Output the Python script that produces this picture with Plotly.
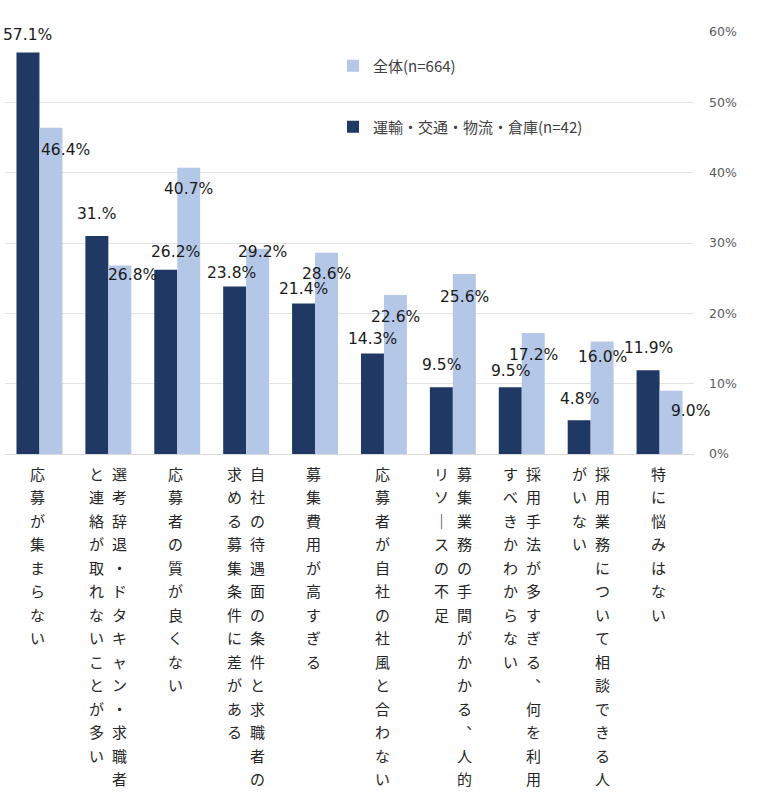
import plotly.graph_objects as go

# ---------------- data ----------------
label_columns = [
    ["応募が集まらない"],
    ["選考辞退・ドタキャン・求職者", "と連絡が取れないことが多い"],
    ["応募者の質が良くない"],
    ["自社の待遇面の条件と求職者の", "求める募集条件に差がある"],
    ["募集費用が高すぎる"],
    ["応募者が自社の社風と合わない"],
    ["募集業務の手間がかかる︑人的", "リソ｜スの不足"],
    ["採用手法が多すぎる︑何を利用", "すべきかわからない"],
    ["採用業務について相談できる人", "がいない"],
    ["特に悩みはない"],
]
categories = ["".join(cols) for cols in label_columns]

transport_name = "運輸・交通・物流・倉庫(n=42)"
transport_values = [57.1, 31.0, 26.2, 23.8, 21.4, 14.3, 9.5, 9.5, 4.8, 11.9]
transport_labels = ["57.1%", "31.%", "26.2%", "23.8%", "21.4%", "14.3%", "9.5%", "9.5%", "4.8%", "11.9%"]

all_name = "全体(n=664)"
all_values = [46.4, 26.8, 40.7, 29.2, 28.6, 22.6, 25.6, 17.2, 16.0, 9.0]
all_labels = ["46.4%", "26.8%", "40.7%", "29.2%", "28.6%", "22.6%", "25.6%", "17.2%", "16.0%", "9.0%"]

y_ticks = [0, 10, 20, 30, 40, 50, 60]
y_ticktext = ["0%", "10%", "20%", "30%", "40%", "50%", "60%"]

# ---------------- styles / label placement (pixels) ----------------
DARK = "#203864"
LIGHT = "#B4C7E7"
JP_FONT = "Noto Sans CJK JP"
NUM_FONT = "DejaVu Sans"

dark_dx = [0, 0, 9.5, -3.5, 0, 0, 0, 0, 0, 0]
dark_dy = [-17, -22, -18, -14, -14, -14, -22, -16, -21, -22]
light_dx = [14.5, 12.5, 0, 5, 0, 0, 0, 0, 0, 19]
light_dy = [22, 9.5, 21, 3.5, 21, 22, 23, 22, 16, 20]

W, H = 772, 797
ML, MR, MT, MB = 4.5, 77.5, 32, 343
cat_px = (W - ML - MR) / len(categories)
bar_half = cat_px / 6.0  # bargap 1/3, two bars

fig = go.Figure()
fig.add_trace(go.Bar(
    x=categories, y=transport_values, name=transport_name,
    marker=dict(color=DARK, line=dict(width=0)),
    legend="legend2", hoverinfo="skip",
))
fig.add_trace(go.Bar(
    x=categories, y=all_values, name=all_name,
    marker=dict(color=LIGHT, line=dict(width=0)),
    legend="legend", hoverinfo="skip",
))

annotations = []
for i, cat in enumerate(categories):
    annotations.append(dict(
        x=cat, y=transport_values[i], xref="x", yref="y",
        text=transport_labels[i], showarrow=False,
        xshift=-bar_half + dark_dx[i], yshift=-dark_dy[i],
        xanchor="center", yanchor="middle",
        font=dict(family=NUM_FONT, size=15.5, color="#1a1a1a"),
    ))
    annotations.append(dict(
        x=cat, y=all_values[i], xref="x", yref="y",
        text=all_labels[i], showarrow=False,
        xshift=bar_half + light_dx[i], yshift=-light_dy[i],
        xanchor="center", yanchor="middle",
        font=dict(family=NUM_FONT, size=15.5, color="#1a1a1a"),
    ))

# vertical (tategaki) category labels, columns read right to left
row_step = 23.5
first_row = 19
for i, cols in enumerate(label_columns):
    if len(cols) == 1:
        col_shift = [-1.5]
    else:
        col_shift = [11.5, -11.5]
    for c, col in enumerate(cols):
        for j, ch in enumerate(col):
            annotations.append(dict(
                x=categories[i], y=0, xref="x", yref="paper",
                text=ch, showarrow=False,
                xshift=col_shift[c], yshift=-(first_row + j * row_step),
                xanchor="center", yanchor="middle",
                font=dict(family=JP_FONT, size=15, color="#262626"),
            ))

fig.update_layout(
    width=W, height=H,
    margin=dict(l=ML, r=MR, t=MT, b=MB, pad=0, autoexpand=False),
    paper_bgcolor="white", plot_bgcolor="white",
    barmode="group", bargap=1/3, bargroupgap=0,
    showlegend=True,
    legend=dict(
        x=(333 - ML) / (W - ML - MR), y=(454 - 66) / (H - MT - MB),
        xanchor="left", yanchor="middle",
        bgcolor="rgba(0,0,0,0)",
        font=dict(family=JP_FONT, size=15, color="#404040"),
    ),
    legend2=dict(
        x=(333 - ML) / (W - ML - MR), y=(454 - 127) / (H - MT - MB),
        xanchor="left", yanchor="middle",
        bgcolor="rgba(0,0,0,0)",
        font=dict(family=JP_FONT, size=15, color="#404040"),
    ),
    xaxis=dict(
        type="category", categoryorder="array", categoryarray=categories,
        range=[-0.5, len(categories) - 0.5], autorange=False,
        showticklabels=False, showgrid=False, zeroline=False,
        showline=True, linecolor="#d9d9d9", linewidth=1, ticks="",
        automargin=False,
    ),
    yaxis=dict(
        range=[0, 60], autorange=False, side="right",
        tickmode="array", tickvals=y_ticks, ticktext=y_ticktext,
        showgrid=True, gridcolor="#e3e3e3", gridwidth=1.3,
        zeroline=False, showline=False, ticks="",
        ticklabelstandoff=14, automargin=False,
        tickfont=dict(family=NUM_FONT, size=12.5, color="#595959"),
    ),
    annotations=annotations,
)

fig.write_html(
    "out.html",
    config={"displayModeBar": False},
    post_script="document.body.style.margin='0';",
)
